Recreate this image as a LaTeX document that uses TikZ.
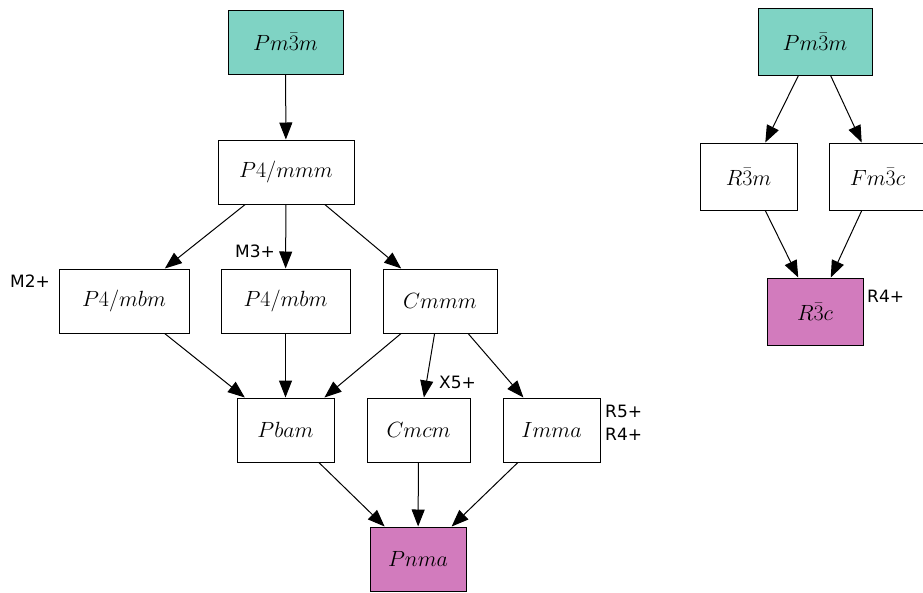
\RequirePackage{fix-cm}
\documentclass[tikz,border=0pt]{standalone}
\usepackage{fontspec}
\newfontfamily\irrepfont{DejaVu Sans}
\usetikzlibrary{arrows.meta}
\definecolor{parentcol}{HTML}{7FD3C4}
\definecolor{childcol}{HTML}{D27BBD}
\begin{document}
\begin{tikzpicture}
   [x=1pt, y=-1pt,
    grp/.style={draw, line width=1pt, inner sep=0pt, minimum height=64pt,
                font=\fontsize{22}{26}\selectfont},
    irrep/.style={anchor=base west, inner sep=0pt, font=\irrepfont\fontsize{17}{20}\selectfont},
    sub/.style={-{Triangle[length=17pt, width=13pt]}, line width=1pt}]
   \useasboundingbox (0,0) rectangle (923,592);

   % left tree
   \node[grp, fill=parentcol, minimum width=115pt] (cubA) at (285.5,42) {$Pm\bar{3}m$};
   \node[grp, minimum width=136pt] (tetra) at (286,172) {$P4/mmm$};
   \node[grp, minimum width=130pt] (mbmA) at (124,301) {$P4/mbm$};
   \node[grp, minimum width=129pt] (mbmB) at (285.5,301) {$P4/mbm$};
   \node[grp, minimum width=114pt] (cmmm) at (440,301) {$Cmmm$};
   \node[grp, minimum width=97pt] (pbam) at (285.5,430) {$Pbam$};
   \node[grp, minimum width=103pt] (cmcm) at (418.5,430) {$Cmcm$};
   \node[grp, minimum width=97pt] (imma) at (551.5,430) {$Imma$};
   \node[grp, fill=childcol, minimum width=96pt] (pnma) at (418,559) {$Pnma$};

   \draw[sub] (cubA) -- (tetra);
   \draw[sub] (tetra) -- (mbmA);
   \draw[sub] (tetra) -- (mbmB);
   \draw[sub] (tetra) -- (cmmm);
   \draw[sub] (mbmA) -- (pbam);
   \draw[sub] (mbmB) -- (pbam);
   \draw[sub] (cmmm) -- (pbam);
   \draw[sub] (cmmm) -- (cmcm);
   \draw[sub] (cmmm) -- (imma);
   \draw[sub] (pbam) -- (pnma);
   \draw[sub] (cmcm) -- (pnma);
   \draw[sub] (imma) -- (pnma);

   \node[irrep] (lM2) at (10,287) {M2+};
   \node[irrep] (lM3) at (235,257) {M3+};
   \node[irrep] (lX5) at (439,388) {X5+};
   \node[irrep] (lR5) at (605,417) {R5+};
   \node[irrep] (lR4) at (605,440) {R4+};

   % right tree
   \node[grp, fill=parentcol, minimum width=114pt, minimum height=67pt] (cubB) at (815,42) {$Pm\bar{3}m$};
   \node[grp, minimum width=97pt, minimum height=67pt] (rhomb) at (748.5,176.5) {$R\bar{3}m$};
   \node[grp, minimum width=97pt, minimum height=67pt] (fcub) at (877.5,176.5) {$Fm\bar{3}c$};
   \node[grp, fill=childcol, minimum width=96pt, minimum height=67pt] (rtc) at (815,311.5) {$R\bar{3}c$};

   \draw[sub] (cubB) -- (rhomb);
   \draw[sub] (cubB) -- (fcub);
   \draw[sub] (rhomb) -- (rtc);
   \draw[sub] (fcub) -- (rtc);

   \node[irrep] (rR4) at (867,302) {R4+};
\end{tikzpicture}
\end{document}
